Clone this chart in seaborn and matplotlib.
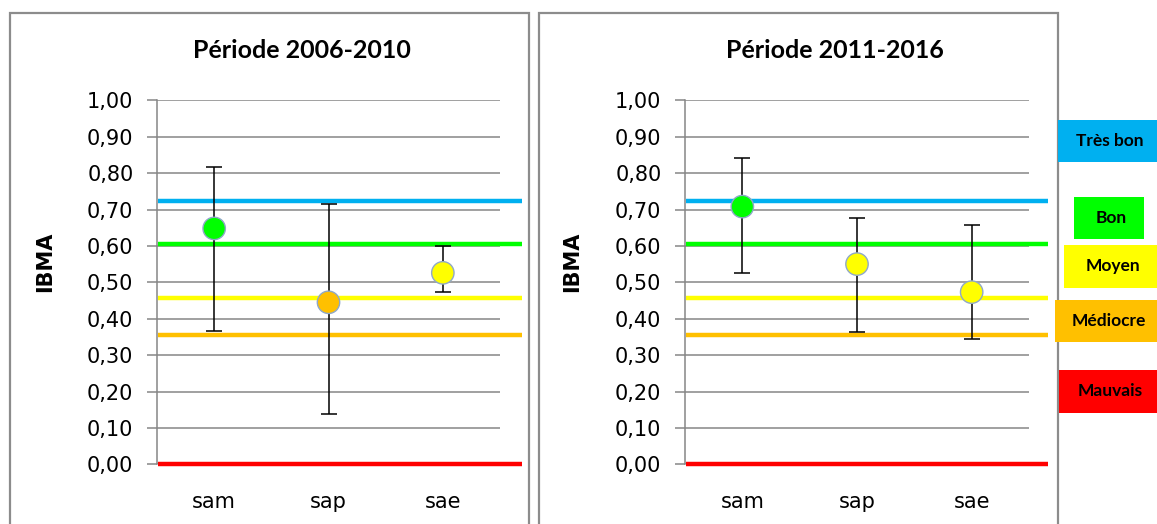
import matplotlib
matplotlib.use("Agg")
import matplotlib.pyplot as plt
from matplotlib.patches import Rectangle
import seaborn as sns
import pandas as pd
import numpy as np

sns.set_style("white")
plt.rcParams['font.family'] = ['DejaVu Sans']
plt.rcParams['text.color'] = 'black'
plt.rcParams['xtick.labelcolor'] = 'black'
plt.rcParams['ytick.labelcolor'] = 'black'

# ---------------- data ----------------
sites = ["sam", "sap", "sae"]
periods = ["Période 2006-2010", "Période 2011-2016"]
mean_p1 = [0.648, 0.445, 0.526]
low_p1 = [0.365, 0.137, 0.473]
high_p1 = [0.816, 0.715, 0.600]
mean_p2 = [0.708, 0.550, 0.473]
low_p2 = [0.525, 0.363, 0.344]
high_p2 = [0.841, 0.676, 0.657]

class_names = ["Très bon", "Bon", "Moyen", "Médiocre", "Mauvais"]
class_limits = [0.724, 0.604, 0.458, 0.354, 0.0]
class_colors = ["#00B0F0", "#00FF00", "#FFFF00", "#FFC000", "#FF0000"]
yticks = [0.0, 0.1, 0.2, 0.3, 0.4, 0.5, 0.6, 0.7, 0.8, 0.9, 1.0]


def classify(v):
    for name, lim in zip(class_names, class_limits):
        if v >= lim:
            return name
    return class_names[-1]


W, H = 1157, 524
fig = plt.figure(figsize=(W / 100, H / 100), dpi=100)

# panel borders
for x0, x1 in [(10, 529), (539, 1058)]:
    fig.add_artist(Rectangle((x0 / W, -0.05), (x1 - x0) / W, (H - 13) / H + 0.05,
                             transform=fig.transFigure, fill=False,
                             edgecolor="#8c8c8c", lw=1.6))

panels = [
    (periods[0], mean_p1, low_p1, high_p1, 157, 500, 522, 302, 45),
    (periods[1], mean_p2, low_p2, high_p2, 685, 1029, 1048, 835, 572),
]

y0px, y1px = 464.3, 100.3
palette = dict(zip(class_names, class_colors))

for title, means, lows, highs, ax_l, ax_r, line_r, tx, lx in panels:
    ax = fig.add_axes([ax_l / W, (H - y0px) / H, (ax_r - ax_l) / W, (y0px - y1px) / H])
    df = pd.DataFrame({"site": sites, "IBMA": means,
                       "classe": [classify(v) for v in means]})
    ax.set_ylim(0, 1.0)
    ax.set_xlim(-0.5, 2.5)
    ax.set_yticks(yticks)
    ax.set_yticklabels([f"{v:.2f}".replace(".", ",") for v in yticks], fontsize=15)
    ax.grid(axis="y", color="#868686", lw=1.1)
    ax.set_axisbelow(True)
    # threshold lines
    frac = (line_r - ax_l) / (ax_r - ax_l)
    for lim, col in zip(class_limits, class_colors):
        ax.plot([-0.5 + 0.006, -0.5 + 3 * frac], [lim, lim], color=col, lw=3.2,
                clip_on=False, zorder=2, solid_capstyle="butt")
    # error bars
    xs = np.arange(len(sites))
    ax.errorbar(xs, means,
                yerr=[np.array(means) - np.array(lows), np.array(highs) - np.array(means)],
                fmt="none", ecolor="black", elinewidth=1.1, capsize=5.5, capthick=1.1,
                zorder=3)
    sns.scatterplot(data=df, x="site", y="IBMA", hue="classe", palette=palette,
                    s=260, edgecolor="#8fa8c8", linewidth=1.0, legend=False,
                    ax=ax, zorder=4)
    ax.set_xlim(-0.5, 2.5)
    ax.set_ylim(0, 1.0)
    ax.set_xlabel("")
    ax.set_ylabel("")
    ax.set_xticks(xs)
    ax.set_xticklabels(sites, fontsize=15)
    ax.set_xticks([-0.5, 0.5, 1.5, 2.5], minor=True)
    ax.tick_params(axis="x", which="major", length=0, pad=20)
    ax.tick_params(axis="x", which="minor", length=8, color="#868686", width=1.1,
                   direction="out")
    ax.tick_params(axis="y", length=7, color="#868686", width=1.1, direction="out",
                   pad=10, left=True)
    for s in ["top", "right", "bottom"]:
        ax.spines[s].set_visible(False)
    ax.spines["left"].set_color("#868686")
    ax.spines["left"].set_linewidth(1.1)
    fig.text(tx / W, 1 - 51 / H, title, ha="center", va="center",
             fontsize=18, fontweight="bold", family="Lato", color="black")
    fig.text(lx / W, 1 - 262 / H, "IBMA", ha="center", va="center",
             rotation=90, fontsize=15, fontweight="bold", color="black")

# class legend boxes
boxes = [
    ("Très bon", 1058, 1157, 120, 162),
    ("Bon", 1074, 1144, 197, 239),
    ("Moyen", 1064, 1157, 245, 288),
    ("Médiocre", 1055, 1157, 300, 342),
    ("Mauvais", 1059, 1157, 370, 413),
]
for (name, x0, x1, yt, yb), col in zip(boxes, class_colors):
    fig.add_artist(Rectangle((x0 / W, 1 - yb / H), (x1 - x0) / W, (yb - yt) / H,
                             transform=fig.transFigure, facecolor=col, edgecolor="none"))
    fig.text((x0 + x1) / 2 / W + 0.002, 1 - (yt + yb) / 2 / H, name, ha="center",
             va="center", fontsize=12.5, fontweight="bold", family="Lato",
             color="black")

fig.savefig("out.png", dpi=100)
